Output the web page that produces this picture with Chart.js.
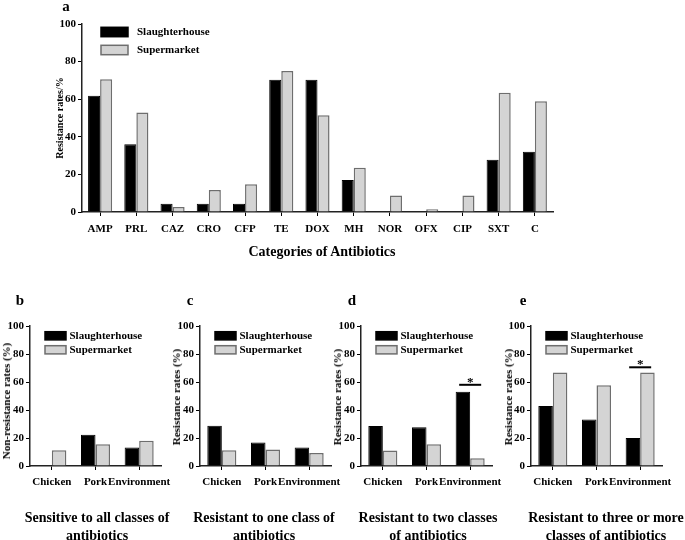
<!DOCTYPE html>
<html>
<head>
<meta charset="utf-8">
<script src="https://cdn.jsdelivr.net/npm/chart.js@4.4.1/dist/chart.umd.min.js"></script>
<style>
  body { margin: 0; background: #fff; }
  #wrap { position: relative; width: 685px; height: 540px; overflow: hidden;
          font-family: "Liberation Serif", "Times New Roman", serif; font-weight: bold; color: #000; }
  #wrap canvas { position: absolute; left: 0; }
  .lbl { position: absolute; white-space: nowrap; transform: translate(-50%, -50%); }
  .rot { transform: translate(-50%, -50%) rotate(-90deg); }
  .ttl { position: absolute; text-align: center; font-size: 14px; line-height: 18.4px; transform: translateX(-50%); white-space: nowrap; }
</style>
</head>
<body>
<div id="wrap">
  <canvas id="chartA" width="685" height="270" style="top:0"></canvas>
  <canvas id="chartB" width="685" height="270" style="top:270px"></canvas>
  <canvas id="chartC" width="685" height="270" style="top:270px"></canvas>
  <canvas id="chartD" width="685" height="270" style="top:270px"></canvas>
  <canvas id="chartE" width="685" height="270" style="top:270px"></canvas>

  <div class="lbl" style="left:66px;top:6px;font-size:15px">a</div>
  <div class="lbl rot" style="left:59px;top:118px;font-size:10px">Resistance rates/%</div>
  <div class="lbl" style="left:322px;top:252px;font-size:14px">Categories of Antibiotics</div>

  <div class="lbl" style="left:20px;top:300px;font-size:15px">b</div>
  <div class="lbl" style="left:190px;top:300px;font-size:15px">c</div>
  <div class="lbl" style="left:352px;top:300px;font-size:15px">d</div>
  <div class="lbl" style="left:523px;top:300px;font-size:15px">e</div>

  <div class="lbl rot" style="left:6px;top:401px;font-size:11px">Non-resistance rates (%)</div>
  <div class="lbl rot" style="left:176px;top:397px;font-size:11px">Resistance rates (%)</div>
  <div class="lbl rot" style="left:337px;top:397px;font-size:11px">Resistance rates (%)</div>
  <div class="lbl rot" style="left:508px;top:397px;font-size:11px">Resistance rates (%)</div>

  <div class="ttl" style="left:97px;top:509px">Sensitive to all classes of<br>antibiotics</div>
  <div class="ttl" style="left:264px;top:509px">Resistant to one class of<br>antibiotics</div>
  <div class="ttl" style="left:428px;top:509px">Resistant to two classes<br>of antibiotics</div>
  <div class="ttl" style="left:606px;top:509px">Resistant to three or more<br>classes of antibiotics</div>
</div>

<script>
// panel a: resistance per antibiotic
const antibiotics = ['AMP', 'PRL', 'CAZ', 'CRO', 'CFP', 'TE', 'DOX', 'MH', 'NOR', 'OFX', 'CIP', 'SXT', 'C'];
const slaughterRates = [61.8, 36.1, 4.4, 4.4, 4.4, 70.3, 70.3, 17.0, 0, 0, 0, 27.8, 32.0];
const supermarketRates = [70.6, 52.9, 2.7, 11.7, 14.7, 75.0, 51.5, 23.5, 8.8, 1.4, 8.8, 63.4, 58.9];

// panels b-e: by sample source
const sources = ['Chicken', 'Pork', 'Environment'];
const sensitiveSlaughter = [0, 22.4, 13.3];
const sensitiveSupermarket = [11.2, 15.5, 18.1];
const oneClassSlaughter = [28.8, 16.7, 13.3];
const oneClassSupermarket = [11.2, 11.7, 9.3];
const twoClassSlaughter = [28.6, 27.6, 53.1];
const twoClassSupermarket = [11.0, 15.5, 5.5];
const threePlusSlaughter = [42.9, 33.3, 20.0];
const threePlusSupermarket = [66.7, 57.6, 66.7];

const yTicks = [0, 20, 40, 60, 80, 100];

const FONT = 'Liberation Serif';

// legend drawn inside the plot area
const boxLegend = {
    id: 'boxLegend',
    afterDraw(chart, args, o) {
        const { ctx, chartArea } = chart;
        ctx.save();
        ctx.font = `bold ${o.size}px "${FONT}"`;
        ctx.textBaseline = 'middle';
        chart.data.datasets.forEach((ds, i) => {
            const x = chartArea.left + o.x;
            const y = chartArea.top + o.y + i * o.gap;
            ctx.fillStyle = ds.backgroundColor;
            ctx.fillRect(x, y, o.w, o.h);
            ctx.lineWidth = 1.5;
            ctx.strokeStyle = ds.borderColor;
            ctx.strokeRect(x, y, o.w, o.h);
            ctx.fillStyle = '#000';
            ctx.fillText(ds.label, x + o.w + o.textGap, y + o.h / 2 + 0.5);
        });
        ctx.restore();
    }
};

// significance bar with a star
const sigBar = {
    id: 'sigBar',
    afterDatasetsDraw(chart, args, o) {
        if (!o || !o.category) return;
        const { ctx } = chart;
        const x = chart.scales.x.getPixelForValue(chart.data.labels.indexOf(o.category));
        const y = chart.scales.y.getPixelForValue(o.value);
        ctx.save();
        ctx.strokeStyle = '#000';
        ctx.lineWidth = 2;
        ctx.beginPath();
        ctx.moveTo(x - o.half, y);
        ctx.lineTo(x + o.half, y);
        ctx.stroke();
        ctx.fillStyle = '#000';
        ctx.font = `bold 13px "${FONT}"`;
        ctx.textAlign = 'center';
        ctx.textBaseline = 'alphabetic';
        ctx.fillText('*', x, y + 1);
        ctx.restore();
    }
};

function barSets(slaughter, supermarket) {
    return [
        { label: 'Slaughterhouse', data: slaughter, backgroundColor: '#000', borderColor: '#000',
          borderWidth: 1, categoryPercentage: 0.665, barPercentage: 1.0 },
        { label: 'Supermarket', data: supermarket, backgroundColor: '#d4d4d4', borderColor: '#6e6e6e',
          borderWidth: 1.5, categoryPercentage: 0.665, barPercentage: 1.0 }
    ];
}

function makeChart(id, labels, datasets, box, legend, sig) {
    const yWidth = box.yWidth;
    return new Chart(document.getElementById(id), {
        type: 'bar',
        data: { labels: labels, datasets: datasets },
        options: {
            responsive: false,
            animation: false,
            layout: { padding: { left: box.left - yWidth, right: 685 - box.right, top: box.top, bottom: 0 } },
            plugins: {
                legend: { display: false },
                tooltip: { enabled: false },
                boxLegend: legend,
                sigBar: sig || {}
            },
            scales: {
                x: {
                    grid: { display: true, drawOnChartArea: false, offset: false, tickLength: 4, color: '#000' },
                    border: { display: true, color: '#222', width: 1.5 },
                    ticks: { color: '#000', padding: box.xPad, maxRotation: 0, autoSkip: false,
                             font: { family: FONT, weight: 'bold', size: 11 } },
                    afterFit: s => { s.height = 270 - box.bottom; }
                },
                y: {
                    min: 0, max: 100,
                    afterBuildTicks: s => { s.ticks = yTicks.map(v => ({ value: v })); },
                    grid: { display: true, drawOnChartArea: false, tickLength: 4, color: '#000' },
                    border: { display: true, color: '#222', width: 1.5 },
                    ticks: { color: '#000', padding: 2, font: { family: FONT, weight: 'bold', size: 11 } },
                    afterFit: s => { s.width = yWidth; }
                }
            }
        },
        plugins: [boxLegend, sigBar]
    });
}

const legendA = { x: 19, y: 3.3, w: 27, h: 9.4, gap: 18, textGap: 9, size: 11 };
const legendSmall = { x: 15, y: 5.7, w: 21, h: 8.2, gap: 14, textGap: 3.5, size: 11 };

makeChart('chartA', antibiotics, barSets(slaughterRates, supermarketRates),
    { left: 82, right: 553, top: 24, bottom: 212, yWidth: 82, xPad: 7 }, legendA);

makeChart('chartB', sources, barSets(sensitiveSlaughter, sensitiveSupermarket),
    { left: 30, right: 161, top: 56, bottom: 196, yWidth: 30, xPad: 6 }, legendSmall);
makeChart('chartC', sources, barSets(oneClassSlaughter, oneClassSupermarket),
    { left: 200, right: 331, top: 56, bottom: 196, yWidth: 30, xPad: 6 }, legendSmall);
makeChart('chartD', sources, barSets(twoClassSlaughter, twoClassSupermarket),
    { left: 361, right: 492, top: 56, bottom: 196, yWidth: 30, xPad: 6 }, legendSmall,
    { category: 'Environment', value: 58, half: 11 });
makeChart('chartE', sources, barSets(threePlusSlaughter, threePlusSupermarket),
    { left: 531, right: 662, top: 56, bottom: 196, yWidth: 30, xPad: 6 }, legendSmall,
    { category: 'Environment', value: 70.5, half: 11 });
</script>
</body>
</html>
